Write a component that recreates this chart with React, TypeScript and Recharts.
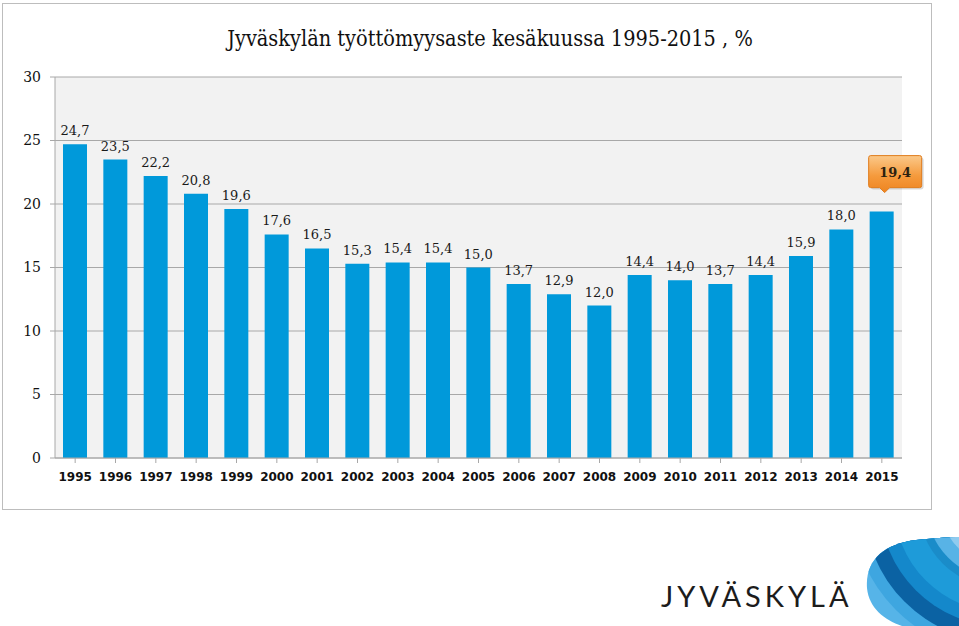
import React from 'react';
import { BarChart, Bar, XAxis, YAxis, CartesianGrid } from 'recharts';

const years = ['1995', '1996', '1997', '1998', '1999', '2000', '2001', '2002', '2003', '2004', '2005',
  '2006', '2007', '2008', '2009', '2010', '2011', '2012', '2013', '2014', '2015'];
const rates = [24.7, 23.5, 22.2, 20.8, 19.6, 17.6, 16.5, 15.3, 15.4, 15.4, 15.0,
  13.7, 12.9, 12.0, 14.4, 14.0, 13.7, 14.4, 15.9, 18.0, 19.4];
const yTicks = [0, 5, 10, 15, 20, 25, 30];

const data = years.map((year, i) => ({ year, value: rates[i] }));

const SERIF = "'DejaVu Serif', 'Liberation Serif', serif";
const fmt = (v: number) => v.toFixed(1).replace('.', ',');

const ValueLabel = (props: any) => {
  const { x, y, width, value, index } = props;
  const cx = x + width / 2;
  if (index === rates.length - 1) {
    const left = cx - 13;
    const top = y - 56;
    return (
      <g>
        <defs>
          <linearGradient id="calloutFill" x1="0" y1="0" x2="0" y2="1">
            <stop offset="0%" stopColor="#fbc98a" />
            <stop offset="55%" stopColor="#f59a3c" />
            <stop offset="100%" stopColor="#ee8420" />
          </linearGradient>
        </defs>
        <rect x={left + 2} y={top + 2} width={53} height={32} rx={3} fill="#000" opacity={0.15} />
        <path
          d={`M${left + 2},${top} H${left + 51} Q${left + 53},${top} ${left + 53},${top + 2} V${top + 30} Q${left + 53},${top + 32} ${left + 51},${top + 32} H${cx + 8} L${cx + 3},${top + 37} L${cx - 2},${top + 32} H${left + 2} Q${left},${top + 32} ${left},${top + 30} V${top + 2} Q${left},${top} ${left + 2},${top} Z`}
          fill="url(#calloutFill)"
          stroke="#e07c1c"
          strokeWidth={1}
        />
        <text x={left + 26.5} y={top + 21} textAnchor="middle" fontFamily={SERIF}
          fontWeight="bold" fontSize={13} fill="#2b2110">{fmt(value)}</text>
      </g>
    );
  }
  return (
    <text x={cx} y={y - 9} textAnchor="middle" fontFamily={SERIF} fontSize={13} fill="#1a1a1a">
      {fmt(value)}
    </text>
  );
};

const Logo = () => (
  <>
    <div style={{
      position: 'absolute', left: 661, top: 580, fontFamily: 'Lato, sans-serif', fontSize: 29,
      letterSpacing: 4, color: '#1c1c1c', lineHeight: '32px',
    }}>JYVÄSKYLÄ</div>
    <svg style={{ position: 'absolute', left: 862, top: 534 }} width={97} height={92}>
      <defs>
        <clipPath id="blob">
          <path d="M5,54 C3,26 22,10 54,6 C74,4 90,3 97,3 L97,92 L40,92 C22,86 7,74 5,54 Z" />
        </clipPath>
      </defs>
      <g clipPath="url(#blob)">
        <rect x={0} y={0} width={97} height={92} fill="#56b4e8" />
        <circle cx={140} cy={-30} r={150} fill="#3ea6e0" />
        <circle cx={140} cy={-30} r={138} fill="#0b62a3" />
        <circle cx={140} cy={-30} r={122} fill="#1488cb" />
        <circle cx={140} cy={-30} r={108} fill="#1e9bd9" />
        <circle cx={140} cy={-30} r={84} fill="#1a8cc9" />
        <circle cx={140} cy={-30} r={76} fill="#58b3e6" />
        <circle cx={140} cy={-30} r={62} fill="#8fcbef" />
        <circle cx={140} cy={-30} r={50} fill="#c2e3f7" />
      </g>
    </svg>
  </>
);

export default function App() {
  return (
    <div style={{ position: 'absolute', left: 0, top: 0, width: 959, height: 626, background: '#fff' }}>
      <div style={{
        position: 'absolute', left: 2, top: 3, width: 930, height: 507,
        border: '1px solid #bdbdbd', boxSizing: 'border-box',
      }}>
        <div style={{
          position: 'absolute', left: 487, top: 21, whiteSpace: 'nowrap',
          transform: 'translateX(-50%) scaleX(0.88)', transformOrigin: 'center top',
          fontFamily: SERIF, fontSize: 22, color: '#111', lineHeight: '28px',
        }}>
          Jyväskylän työttömyysaste kesäkuussa 1995-2015 , %
        </div>
        <div style={{ position: 'absolute', left: 0, top: 0 }}>
          <BarChart width={928} height={505} data={data} margin={{ top: 73, right: 29, bottom: 0, left: 0 }}
            barSize={24}>
            <CartesianGrid vertical={false} fill="#f2f2f2" stroke="#a8a8a8" />
            <XAxis dataKey="year" height={51} axisLine={{ stroke: '#a8a8a8' }} tickLine={{ stroke: '#a8a8a8' }}
              tickSize={5} tickMargin={9} interval={0}
              tick={{ fill: '#111', fontFamily: 'DejaVu Sans, sans-serif', fontWeight: 'bold', fontSize: 12 }} />
            <YAxis width={52} domain={[0, 30]} ticks={yTicks} interval={0} axisLine={{ stroke: '#a8a8a8' }}
              tickLine={{ stroke: '#a8a8a8' }} tickSize={5} tickMargin={9}
              tick={{ fill: '#111', fontFamily: SERIF, fontSize: 14 }} />
            <Bar dataKey="value" fill="#0099da" isAnimationActive={false} label={ValueLabel} />
          </BarChart>
        </div>
      </div>
      <Logo />
    </div>
  );
}
